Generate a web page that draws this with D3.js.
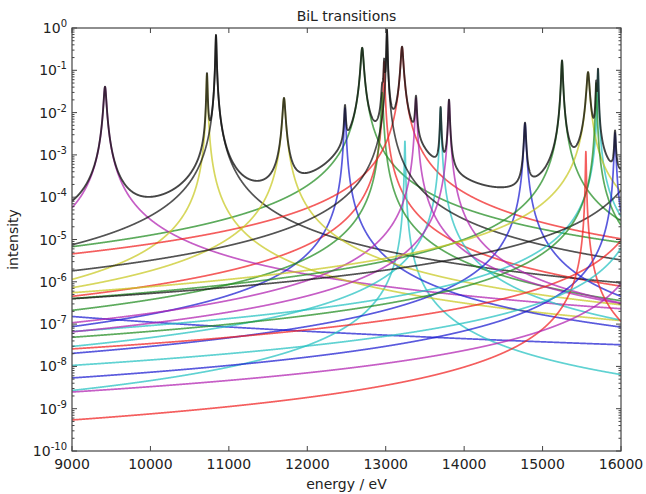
<!DOCTYPE html>
<html><head><meta charset="utf-8">
<script src="https://cdnjs.cloudflare.com/ajax/libs/d3/7.8.5/d3.min.js"></script>
<style>body{margin:0;background:#fff} text{font-family:"DejaVu Sans",sans-serif;fill:#222}</style>
</head><body><svg id="c" width="646" height="494"></svg>
<script>
// ---- data ----
const title = "BiL transitions";
const xLabel = "energy / eV";
const yLabel = "intensity";
const xTickValues = [9000, 10000, 11000, 12000, 13000, 14000, 15000, 16000];
const yTickExponents = [0, -1, -2, -3, -4, -5, -6, -7, -8, -9, -10];
// line centres (eV), peak intensities and Lorentzian half widths (eV), in plotting order
const lineEnergies = [2970, 12700, 12980, 13245, 9421, 10721, 10836,
                      12481, 12955, 13208, 13700, 13386, 11703, 13016,
                      14776, 15248, 16384, 15707, 13807, 15580, 16384,
                      15924, 15684, 15552, 16300, 16384];
const lineHeights  = [0.02, 0.34, 0.16, 0.0022, 0.041, 0.085, 0.68,
                      0.013, 0.03, 0.36, 0.013, 0.022, 0.022, 0.9,
                      0.0056, 0.17, 0.02, 0.107, 0.02, 0.09, 0.05,
                      0.0033, 0.05, 0.0012, 0.01, 0.005];
const lineWidths   = [16.6, 16.5, 6.7, 4.7, 15.6, 6.3, 6.1,
                      9.0, 10.5, 15.0, 7.1, 9.7, 15.5, 5.7,
                      11.0, 9.6, 8.4, 5.3, 8.7, 16.3, 20.8,
                      8.8, 6.6, 4.4, 7.5, 5.2];
const energyMin = 9000, energyMax = 16000, energyStep = 2;

// ---- style ----
const colorCycle = ["#1a1ad0", "#1f8a1f", "#f02020", "#22c0c0", "#b020b0", "#c8c820", "#111111"];
const W = 646, H = 494;
const m = {left: 72, right: 621, top: 28, bottom: 451};

const svg = d3.select("#c");
const x = d3.scaleLinear().domain([energyMin, energyMax]).range([m.left, m.right]);
const y = d3.scaleLog().domain([1e-10, 1]).range([m.bottom, m.top]);

const energies = d3.range(energyMin, energyMax + energyStep / 2, energyStep);
const lorentz = (E, E0, A, g) => A * g * g / ((E - E0) * (E - E0) + g * g);
const series = lineEnergies.map((E0, i) => energies.map(E => [E, lorentz(E, E0, lineHeights[i], lineWidths[i])]));
const total = energies.map((E, j) => [E, d3.sum(series, s => s[j][1])]);

svg.append("rect").attr("x", 0).attr("y", 0).attr("width", W).attr("height", H).attr("fill", "#fff");
svg.append("clipPath").attr("id", "clip").append("rect")
  .attr("x", m.left).attr("y", m.top).attr("width", m.right - m.left).attr("height", m.bottom - m.top);

const line = d3.line().x(d => x(d[0])).y(d => y(Math.max(d[1], 1e-12)));
const g = svg.append("g").attr("clip-path", "url(#clip)");
series.forEach((s, i) => {
  g.append("path").attr("d", line(s)).attr("fill", "none")
    .attr("stroke", colorCycle[i % colorCycle.length]).attr("stroke-width", 1.7)
    .attr("stroke-opacity", 0.72).attr("stroke-linejoin", "round");
});
g.append("path").attr("d", line(total)).attr("fill", "none")
  .attr("stroke", "#111").attr("stroke-width", 1.9).attr("stroke-opacity", 0.78).attr("stroke-linejoin", "round");

// frame
svg.append("rect").attr("x", m.left).attr("y", m.top).attr("width", m.right - m.left).attr("height", m.bottom - m.top)
  .attr("fill", "none").attr("stroke", "#444").attr("stroke-width", 1.2);

// x ticks (inside, top and bottom)
const axes = svg.append("g").attr("stroke", "#444").attr("stroke-width", 1);
xTickValues.forEach(v => {
  axes.append("line").attr("x1", x(v)).attr("x2", x(v)).attr("y1", m.bottom).attr("y2", m.bottom - 5);
  axes.append("line").attr("x1", x(v)).attr("x2", x(v)).attr("y1", m.top).attr("y2", m.top + 5);
});
svg.append("g").selectAll("text").data(xTickValues).join("text")
  .attr("x", d => x(d)).attr("y", 469).attr("text-anchor", "middle").attr("font-size", 14).text(d => d);

// y ticks: major decades + minor 2..9
yTickExponents.forEach(e => {
  const v = Math.pow(10, e);
  axes.append("line").attr("x1", m.left).attr("x2", m.left + 5).attr("y1", y(v)).attr("y2", y(v));
  axes.append("line").attr("x1", m.right).attr("x2", m.right - 5).attr("y1", y(v)).attr("y2", y(v));
  if (e < 0) d3.range(2, 10).forEach(k => {
    const mv = k * v;
    axes.append("line").attr("x1", m.left).attr("x2", m.left + 2.5).attr("y1", y(mv)).attr("y2", y(mv));
    axes.append("line").attr("x1", m.right).attr("x2", m.right - 2.5).attr("y1", y(mv)).attr("y2", y(mv));
  });
});
const yl = svg.append("g").selectAll("text").data(yTickExponents).join("text")
  .attr("x", 67).attr("y", d => y(Math.pow(10, d)) + 5).attr("text-anchor", "end").attr("font-size", 14);
yl.append("tspan").text("10");
yl.append("tspan").attr("dy", -6).attr("font-size", 10).text(d => d === 0 ? "0" : "-" + Math.abs(d));

svg.append("text").attr("x", (m.left + m.right) / 2).attr("y", 21).attr("text-anchor", "middle")
  .attr("font-size", 14).text(title);
svg.append("text").attr("x", (m.left + m.right) / 2).attr("y", 489).attr("text-anchor", "middle")
  .attr("font-size", 14).text(xLabel);
svg.append("text").attr("transform", `translate(18,${(m.top + m.bottom) / 2}) rotate(-90)`)
  .attr("text-anchor", "middle").attr("font-size", 14).text(yLabel);
</script></body></html>
